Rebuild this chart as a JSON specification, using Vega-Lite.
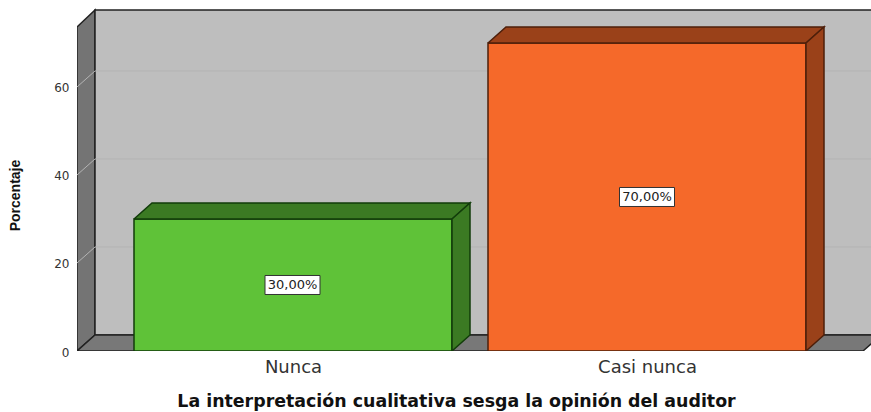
{
"$schema":"https://vega.github.io/schema/vega-lite/v6.json",
"width":794,"height":351,
"autosize":{"type":"none"},
"padding":{"left":77,"top":0,"right":0,"bottom":61},
"background":"white",
"config":{"view":{"stroke":null}},
"datasets":{
"walls":[
{"p":"left wall","i":1,"x":77,"y":0},{"p":"left wall","i":2,"x":77,"y":73.64},{"p":"left wall","i":3,"x":95,"y":77.5},{"p":"left wall","i":4,"x":95,"y":3.64},{"p":"left wall","i":5,"x":77,"y":0},
{"p":"back wall","i":1,"x":95,"y":3.64},{"p":"back wall","i":2,"x":95,"y":77.5},{"p":"back wall","i":3,"x":890,"y":77.5},{"p":"back wall","i":4,"x":890,"y":3.64},{"p":"back wall","i":5,"x":95,"y":3.64},
{"p":"floor","i":1,"x":77,"y":0},{"p":"floor","i":2,"x":95,"y":3.64},{"p":"floor","i":3,"x":881,"y":3.64},{"p":"floor","i":4,"x":863,"y":0},{"p":"floor","i":5,"x":77,"y":0}
],
"grid":[
{"g":"a","i":1,"x":77,"y":20},{"g":"a","i":2,"x":95,"y":23.64},{"g":"a","i":3,"x":890,"y":23.64},
{"g":"b","i":1,"x":77,"y":40},{"g":"b","i":2,"x":95,"y":43.64},{"g":"b","i":3,"x":890,"y":43.64},
{"g":"c","i":1,"x":77,"y":60},{"g":"c","i":2,"x":95,"y":63.64},{"g":"c","i":3,"x":890,"y":63.64}
],
"bars":[
{"p":"Nunca front","i":1,"x":134,"y":0},{"p":"Nunca front","i":2,"x":134,"y":30},{"p":"Nunca front","i":3,"x":452,"y":30},{"p":"Nunca front","i":4,"x":452,"y":0},{"p":"Nunca front","i":5,"x":134,"y":0},
{"p":"Nunca top","i":1,"x":134,"y":30},{"p":"Nunca top","i":2,"x":152,"y":33.64},{"p":"Nunca top","i":3,"x":470,"y":33.64},{"p":"Nunca top","i":4,"x":452,"y":30},{"p":"Nunca top","i":5,"x":134,"y":30},
{"p":"Nunca side","i":1,"x":452,"y":0},{"p":"Nunca side","i":2,"x":452,"y":30},{"p":"Nunca side","i":3,"x":470,"y":33.64},{"p":"Nunca side","i":4,"x":470,"y":3.64},{"p":"Nunca side","i":5,"x":452,"y":0},
{"p":"Casi nunca front","i":1,"x":488,"y":0},{"p":"Casi nunca front","i":2,"x":488,"y":70},{"p":"Casi nunca front","i":3,"x":806,"y":70},{"p":"Casi nunca front","i":4,"x":806,"y":0},{"p":"Casi nunca front","i":5,"x":488,"y":0},
{"p":"Casi nunca top","i":1,"x":488,"y":70},{"p":"Casi nunca top","i":2,"x":506,"y":73.64},{"p":"Casi nunca top","i":3,"x":824,"y":73.64},{"p":"Casi nunca top","i":4,"x":806,"y":70},{"p":"Casi nunca top","i":5,"x":488,"y":70},
{"p":"Casi nunca side","i":1,"x":806,"y":0},{"p":"Casi nunca side","i":2,"x":806,"y":70},{"p":"Casi nunca side","i":3,"x":824,"y":73.64},{"p":"Casi nunca side","i":4,"x":824,"y":3.64},{"p":"Casi nunca side","i":5,"x":806,"y":0}
],
"labels":[
{"x":292.5,"y":15,"label":"30,00%"},
{"x":647,"y":35,"label":"70,00%"}
]
},
"encoding":{
"x":{"field":"x","type":"quantitative","scale":{"domain":[77,871],"nice":false,"zero":false},
"axis":{"values":[293,647],"labelExpr":"datum.value==293?'Nunca':'Casi nunca'","grid":false,"domain":false,"ticks":false,"labelFont":"DejaVu Sans","labelFontSize":18,"labelColor":"#333333","labelPadding":7,"labelFlush":false,"labelOverlap":false,
"title":"La interpretación cualitativa sesga la opinión del auditor","titleFont":"DejaVu Sans","titleFontWeight":"bold","titleFontSize":17.4,"titleColor":"#111111","titleX":379,"titleY":50,"titleBaseline":"middle"}},
"y":{"field":"y","type":"quantitative","scale":{"domain":[0,79.77],"nice":false},
"axis":{"values":[0,20,40,60],"grid":false,"domain":false,"ticks":false,"labelFont":"DejaVu Sans","labelFontSize":12,"labelColor":"#333333","labelPadding":8,"labelOffset":1,
"title":"Porcentaje","titleFont":"Liberation Sans","titleFontWeight":"bold","titleFontSize":14,"titleColor":"#111111","titleX":-55,"titleY":195}}
},
"layer":[
{"data":{"name":"walls"},
"mark":{"type":"line","clip":true,"strokeWidth":1.5},
"encoding":{
"order":{"field":"i"},
"detail":{"field":"p"},
"fill":{"field":"p","type":"nominal","legend":null,"scale":{"domain":["left wall","back wall","floor","Nunca front","Nunca top","Nunca side","Casi nunca front","Casi nunca top","Casi nunca side"],"range":["#747474","#bebebe","#787878","#5fc238","#3b7a23","#3b7a23","#f5692a","#9a4119","#9a4119"]}},
"stroke":{"value":"#222222"}}},
{"data":{"name":"grid"},
"mark":{"type":"line","clip":true,"strokeWidth":1,"color":"#b4b4b4"},
"encoding":{"order":{"field":"i"},"detail":{"field":"g"}}},
{"data":{"name":"bars"},
"mark":{"type":"line","clip":true,"strokeWidth":1.5},
"encoding":{
"order":{"field":"i"},
"detail":{"field":"p"},
"fill":{"field":"p","type":"nominal","legend":null,"scale":{"domain":["left wall","back wall","floor","Nunca front","Nunca top","Nunca side","Casi nunca front","Casi nunca top","Casi nunca side"],"range":["#747474","#bebebe","#787878","#5fc238","#3b7a23","#3b7a23","#f5692a","#9a4119","#9a4119"]}},
"stroke":{"field":"p","type":"nominal","legend":null,"scale":{"domain":["Nunca front","Nunca top","Nunca side","Casi nunca front","Casi nunca top","Casi nunca side"],"range":["#123d0a","#123d0a","#123d0a","#4d1f0a","#4d1f0a","#4d1f0a"]}}}},
{"data":{"name":"labels"},
"mark":{"type":"rect","width":55,"height":19,"fill":"white","stroke":"#333333","strokeWidth":1}},
{"data":{"name":"labels"},
"mark":{"type":"text","font":"DejaVu Sans","fontSize":13,"color":"#222222","align":"center","baseline":"middle"},
"encoding":{"text":{"field":"label"}}}
]
}
